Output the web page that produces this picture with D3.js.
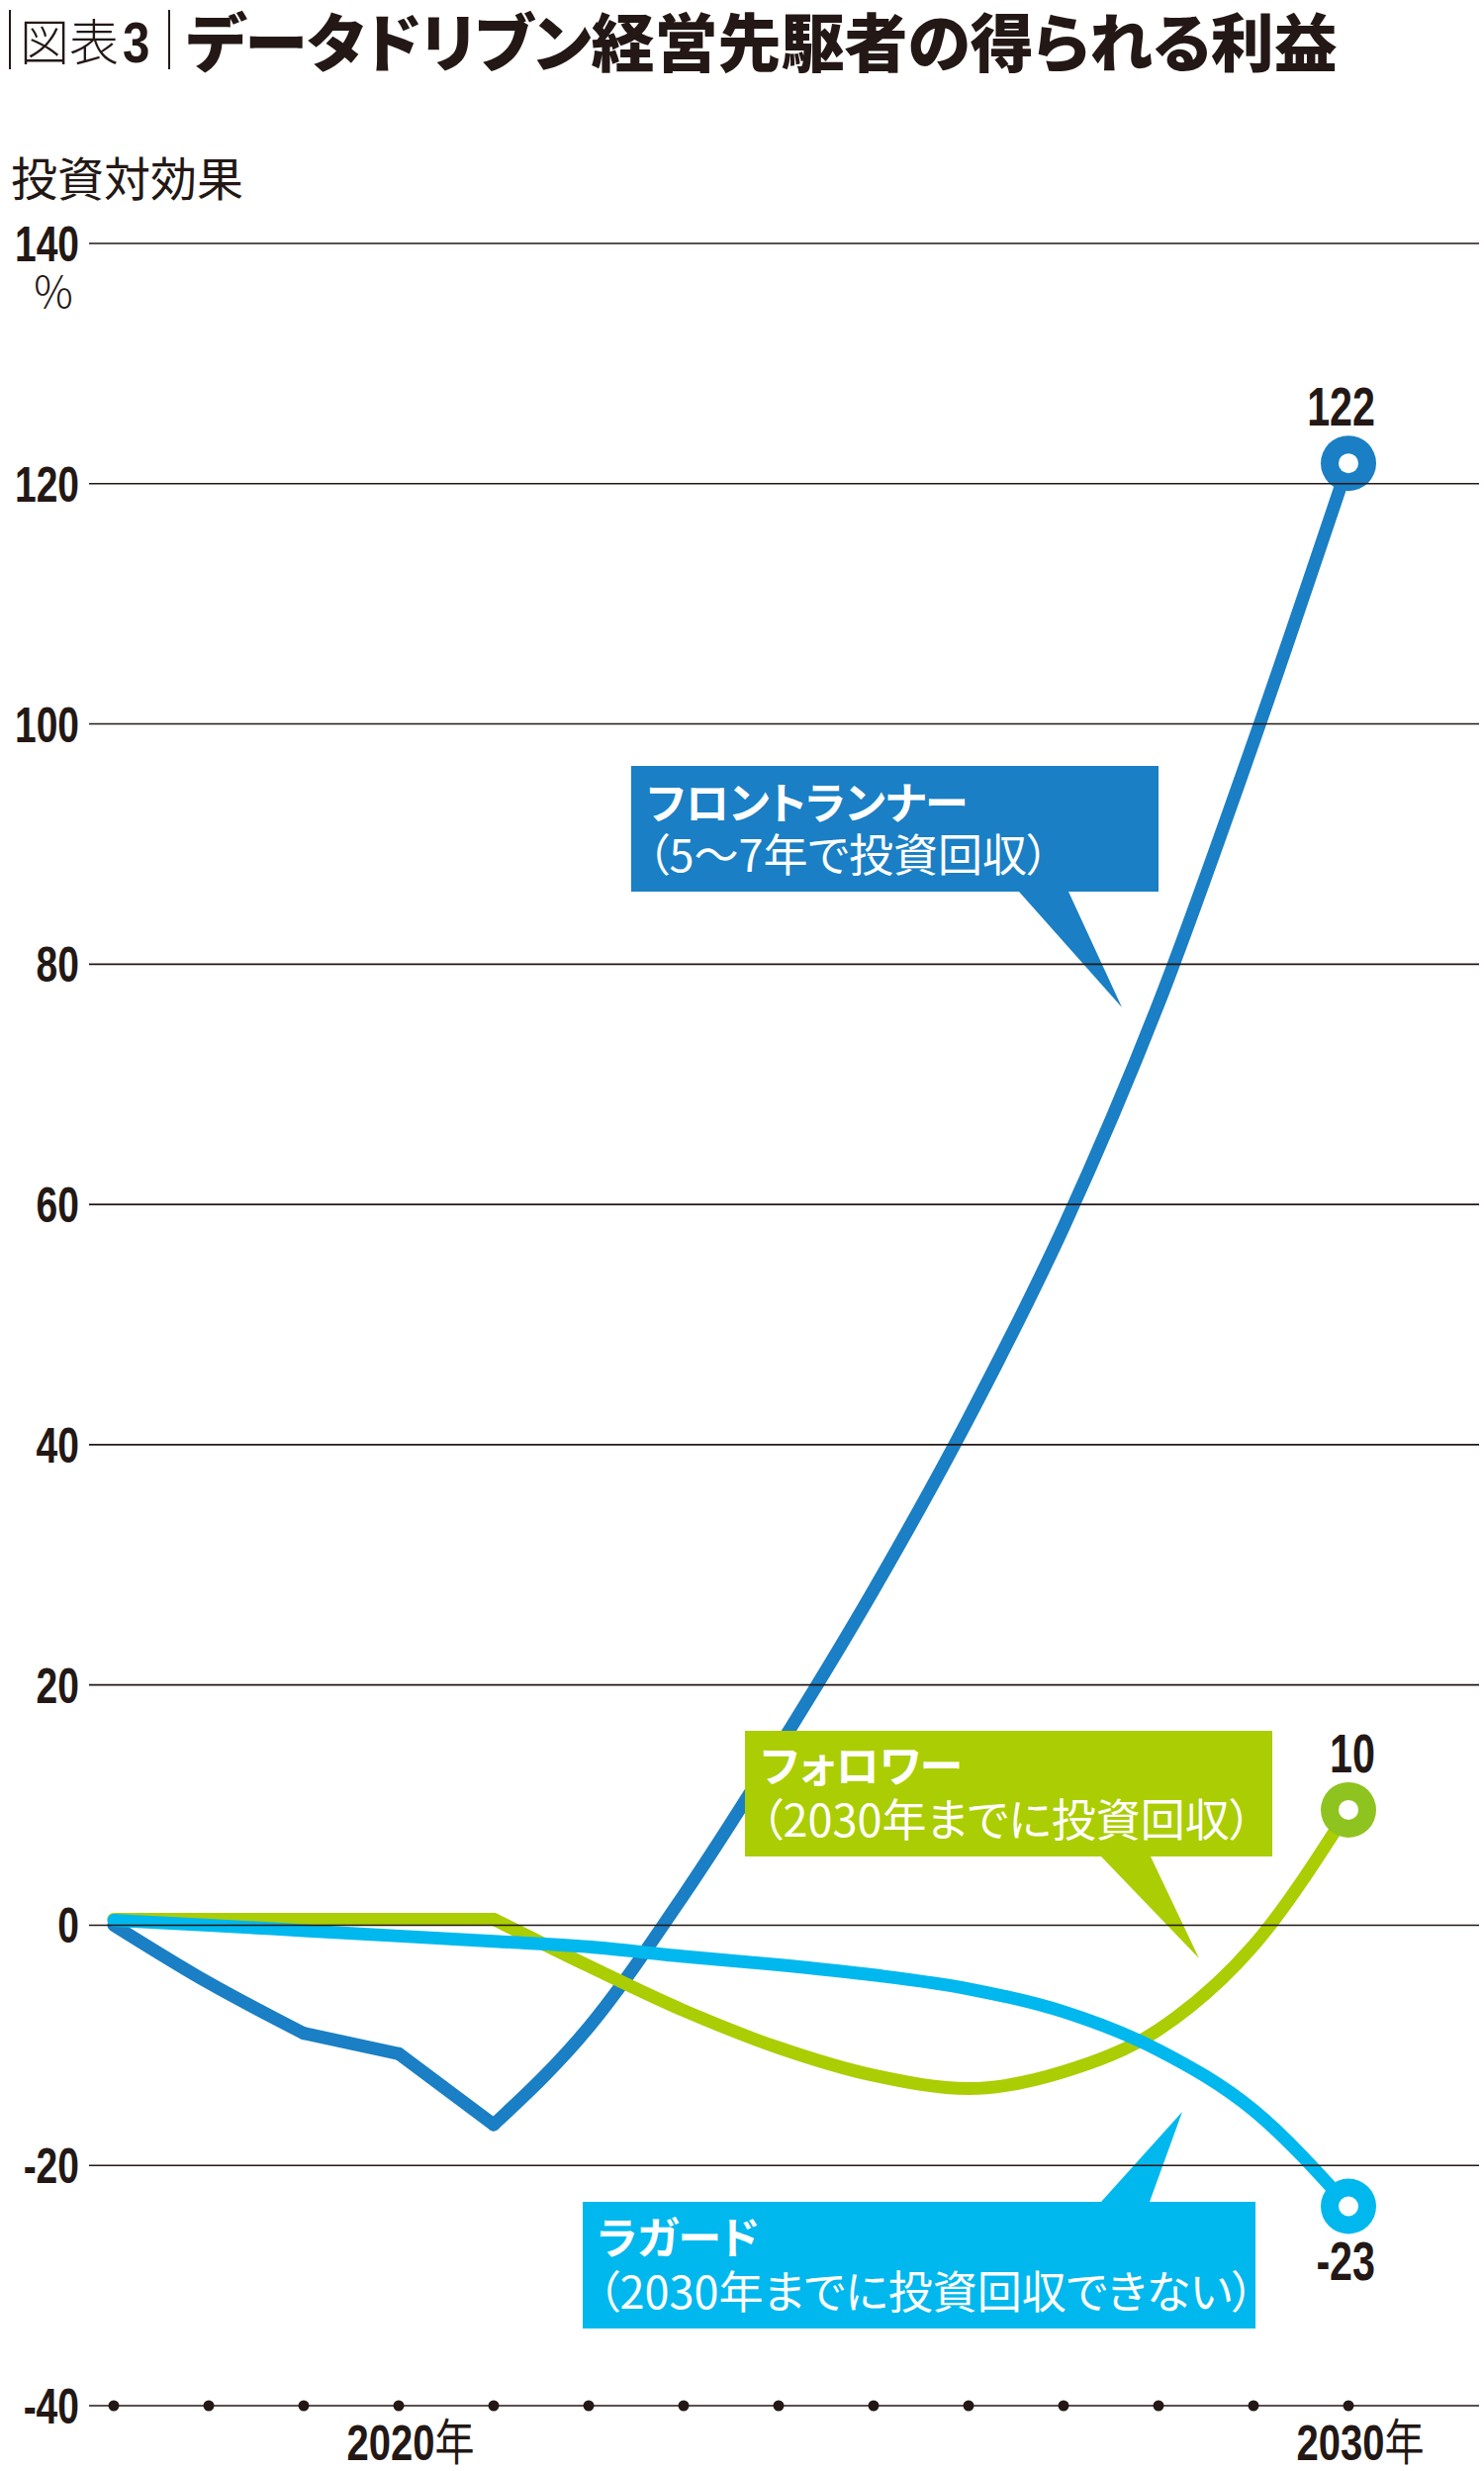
<!DOCTYPE html>
<html>
<head>
<meta charset="UTF-8">
<title>図表3 データドリブン経営先駆者の得られる利益</title>
<script src="https://d3js.org/d3.v7.min.js"></script>
<style>
  body { margin: 0; background: #fff; }
  svg { display: block; }
  .num { font-family: "Liberation Sans", Arial, sans-serif; font-weight: bold; fill: #231815; }
  .jp { font-family: "Noto Sans CJK JP", sans-serif; font-feature-settings: "palt"; }
</style>
</head>
<body>
<svg id="chart"></svg>
<script>
// data
let years = [2017, 2018, 2019, 2020, 2021, 2022, 2023, 2024, 2025, 2026, 2027, 2028, 2029, 2030];
let frontRunner = [0, -4.8, -9.0, -10.7, -16.6, -8.5, 2.5, 14.8, 27.9, 42.2, 58.1, 76.7, 98.5, 121.7];
let follower = [0.5, 0.5, 0.5, 0.5, 0.5, -3.4, -7.1, -10.2, -12.5, -13.6, -12.2, -8.7, -1.7, 9.6];
let laggard = [0.4, 0.0, -0.45, -0.9, -1.35, -1.8, -2.6, -3.3, -4.15, -5.3, -7.2, -10.4, -15.4, -23.4];
let endLabels = ["122", "10", "-23"];
let yTicks = [-40, -20, 0, 20, 40, 60, 80, 100, 120, 140];
let yearLabels = [2020, 2030];

let width = 1500;
let height = 2497;
let ink = "#231815";

let svg = d3.select("#chart").attr("width", width).attr("height", height);

let x = d3.scaleLinear().domain([2017, 2030]).range([115, 1363]);
let y = d3.scaleLinear().domain([-40, 140]).range([2431, 246]);

// the numbers in the original are set in a condensed face
function squeeze(sel, px, py, sx) {
  sel.attr("x", 0).attr("y", 0)
     .attr("transform", (d, i) => "translate(" + px(d, i) + "," + py(d, i) + ") scale(" + sx + ",1)");
}

// series: breaks = indices where the line has a sharp corner
let series = [
  { name: "frontRunner", values: frontRunner, color: "#1a7fc4", marker: "#1a7fc4", breaks: [2, 3, 4], label: endLabels[0], above: true },
  { name: "follower", values: follower, color: "#abcd03", marker: "#8fc31f", breaks: [4], label: endLabels[1], above: true },
  { name: "laggard", values: laggard, color: "#00b8ee", marker: "#00b8ee", breaks: [], label: endLabels[2], above: false }
];

// title
let title = svg.append("g");
title.append("line").attr("x1", 10).attr("x2", 10).attr("y1", 10).attr("y2", 70).attr("stroke", ink).attr("stroke-width", 2);
title.append("line").attr("x1", 171).attr("x2", 171).attr("y1", 10).attr("y2", 70).attr("stroke", ink).attr("stroke-width", 2);
title.append("text").attr("class", "jp").attr("x", 20).attr("y", 61)
  .attr("font-size", 50).attr("font-weight", 300).attr("fill", ink).text("図表");
title.append("text").attr("class", "num")
  .attr("font-size", 58).text("3")
  .call(squeeze, () => 124, () => 63, 0.85);
title.append("text").attr("class", "jp").attr("x", 188).attr("y", 67)
  .attr("font-size", 64).attr("font-weight", 900).attr("fill", ink)
  .text("データドリブン経営先駆者の得られる利益");

// axis titles
svg.append("text").attr("class", "jp").attr("x", 11).attr("y", 198)
  .attr("font-size", 47).attr("fill", ink).text("投資対効果");
svg.append("text").attr("class", "jp").attr("x", 54).attr("y", 312)
  .attr("text-anchor", "middle").attr("font-size", 44).attr("font-weight", 300).attr("fill", ink).text("％");

// y labels
svg.selectAll(".ylab").data(yTicks).join("text")
  .attr("class", "ylab num")
  .attr("text-anchor", "end")
  .attr("font-size", 50)
  .text(d => d)
  .call(squeeze, () => 80, d => y(d) + 18, 0.78);

// x axis dots + year labels
svg.selectAll(".xdot").data(years).join("circle")
  .attr("class", "xdot")
  .attr("cx", d => x(d))
  .attr("cy", y(-40))
  .attr("r", 5.5)
  .attr("fill", ink);

let xl = svg.selectAll(".xlab").data(yearLabels).join("text")
  .attr("class", "xlab num")
  .attr("text-anchor", "middle")
  .attr("font-size", 50)
  .call(squeeze, d => x(d) + 12, () => 2486, 0.8);
xl.append("tspan").text(d => d);
xl.append("tspan").attr("class", "jp").attr("font-size", 50).attr("font-weight", 400).text("年");

// lines
let line = d3.line()
  .x(d => x(d.year))
  .y(d => y(d.value))
  .curve(d3.curveMonotoneX);

series.forEach(s => {
  let pts = s.values.map((v, i) => ({ year: years[i], value: v }));
  let cuts = [0, ...s.breaks, pts.length - 1];
  for (let k = 0; k < cuts.length - 1; k++) {
    svg.append("path")
      .datum(pts.slice(cuts[k], cuts[k + 1] + 1))
      .attr("d", line)
      .attr("fill", "none")
      .attr("stroke", s.color)
      .attr("stroke-width", 13)
      .attr("stroke-linecap", "round")
      .attr("stroke-linejoin", "round");
  }
});

// callout boxes
let callouts = [
  { color: "#1a7fc4", x: 638, y: 774, w: 533, h: 127, pointer: [[1030, 901], [1080, 901], [1134, 1018]],
    lines: ["フロントランナー", "（5〜7年で投資回収）"], tx: 654, ty: [828, 881] },
  { color: "#abcd03", x: 753, y: 1749, w: 533, h: 127, pointer: [[1113, 1876], [1163, 1876], [1212, 1979]],
    lines: ["フォロワー", "（2030年までに投資回収）"], tx: 769, ty: [1801, 1856] },
  { color: "#00b8ee", x: 589, y: 2225, w: 680, h: 128, pointer: [[1113, 2225], [1162, 2225], [1195, 2134]],
    lines: ["ラガード", "（2030年までに投資回収できない）"], tx: 604, ty: [2278, 2333] }
];

callouts.forEach(c => {
  let g = svg.append("g");
  g.append("rect").attr("x", c.x).attr("y", c.y).attr("width", c.w).attr("height", c.h).attr("fill", c.color);
  g.append("path").attr("d", "M" + c.pointer.join("L") + "Z").attr("fill", c.color);
  g.append("text").attr("class", "jp").attr("x", c.tx).attr("y", c.ty[0])
    .attr("font-size", 44).attr("font-weight", 700).attr("fill", "#fff").text(c.lines[0]);
  g.append("text").attr("class", "jp").attr("x", c.tx).attr("y", c.ty[1])
    .attr("font-size", 45).attr("font-weight", 400).attr("fill", "#fff").text(c.lines[1]);
});

// end markers + labels
series.forEach(s => {
  let last = s.values.length - 1;
  let cx = x(years[last]);
  let cy = y(s.values[last]);
  svg.append("circle").attr("cx", cx).attr("cy", cy).attr("r", 28).attr("fill", s.marker);
  svg.append("circle").attr("cx", cx).attr("cy", cy).attr("r", 10).attr("fill", "#fff");
  svg.append("text").attr("class", "num")
    .attr("text-anchor", "end")
    .attr("font-size", 55)
    .text(s.label)
    .call(squeeze, () => 1390, () => (s.above ? cy - 38 : cy + 75), 0.75);
});

// gridlines on top
svg.selectAll(".grid").data(yTicks).join("line")
  .attr("class", "grid")
  .attr("x1", 90).attr("x2", 1495)
  .attr("y1", d => y(d)).attr("y2", d => y(d))
  .attr("stroke", ink)
  .attr("stroke-width", 1.6);
svg.selectAll(".xdot").raise();
</script>
</body>
</html>
